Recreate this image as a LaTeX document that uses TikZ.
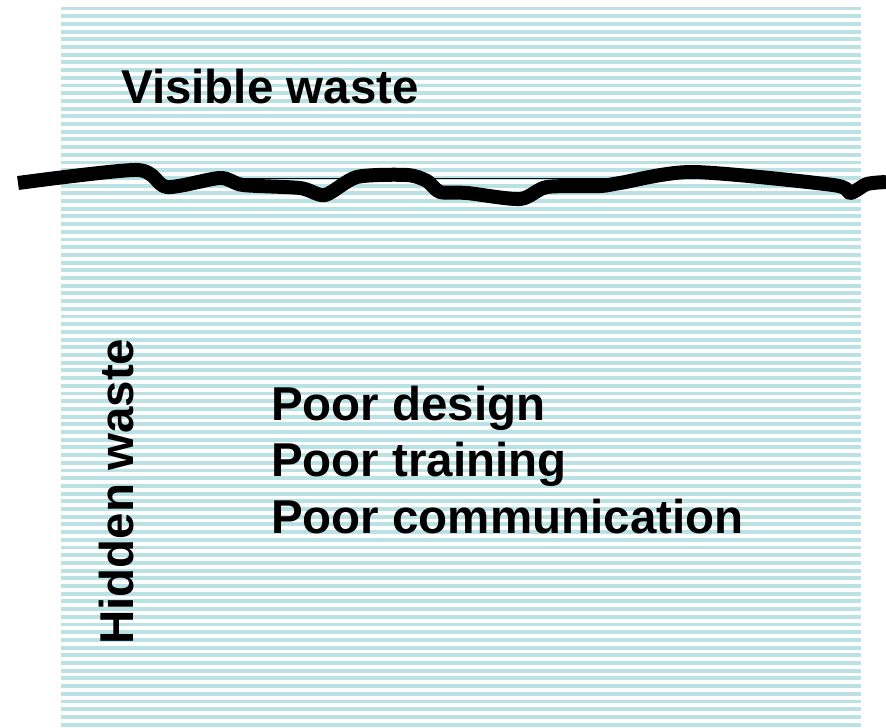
\documentclass[tikz,border=0pt]{standalone}
\usepackage{fontspec}
\setmainfont{Liberation Sans}
\definecolor{seastripe}{RGB}{186,226,229}
\tikzset{
  stripe/.style={draw=seastripe, line width=3.9pt},
  shoreline/.style={draw=black, line width=14pt, line join=round},
  label/.style={font=\bfseries\fontsize{47.5}{56.5}\selectfont, inner sep=0pt, align=left}
}

\begin{document}
\begin{tikzpicture}[x=1pt,y=-1pt]
\useasboundingbox (0,0) rectangle (886,728);

%--------------------------------------------------
% Striped water body
%--------------------------------------------------
\foreach \k in {0,...,93}
  \draw[stripe] (61,8.5+7.7*\k) -- (861,8.5+7.7*\k);

%--------------------------------------------------
% Water line
%--------------------------------------------------
\draw[black, line width=1pt] (240,178) -- (835,178);
\draw[shoreline] plot[smooth, tension=0.45] coordinates {
  (18,183) (137,170) (167,187) (220,178) (243,185) (300,188)
  (325,195) (357,177) (407,175) (427,181) (440,192) (467,193)
  (520,199) (547,187) (600,186) (620,183) (693,172) (833,185)
  (850,193) (867,184) (886,182)};

%--------------------------------------------------
% Labels
%--------------------------------------------------
\node[label, anchor=base west] (visible) at (121,103) {Visible waste};

\node[label, anchor=base west, rotate=90] (hidden) at (133,645) {Hidden waste};

% base of a multi-line node sits on its last line
\node[label, anchor=base west] (causes) at (271,533)
{Poor design\\Poor training\\Poor communication};

\end{tikzpicture}
\end{document}
